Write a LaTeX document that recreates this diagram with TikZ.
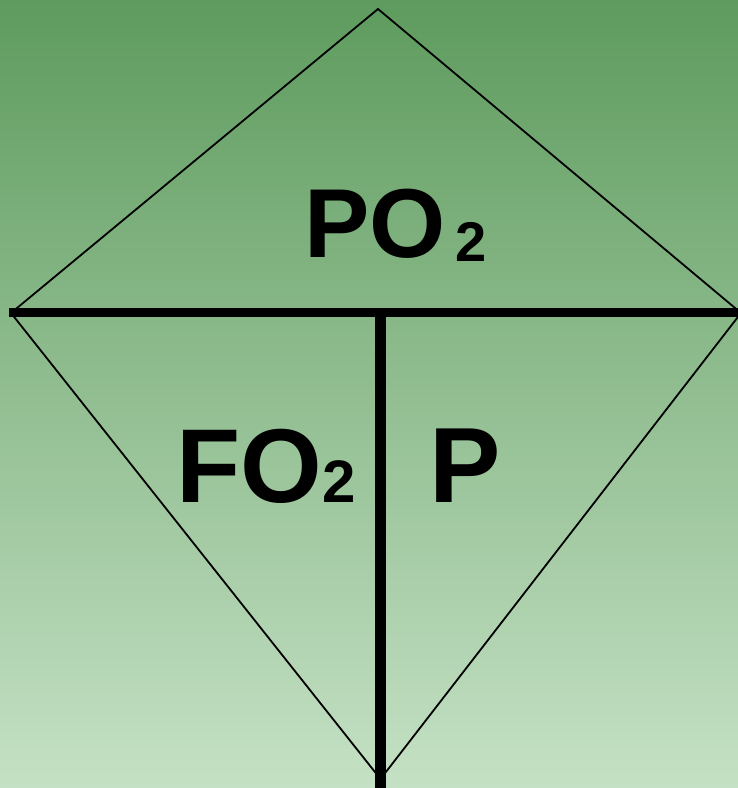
\documentclass[tikz,border=0pt]{standalone}
\usepackage{fontspec}
\setmainfont{Liberation Sans}
\begin{document}
\begin{tikzpicture}[x=1pt,y=1pt,
  thinline/.style={line width=1.8pt,line join=miter},
  thickline/.style={line width=9.5pt},
  lbl/.style={inner sep=0pt,outer sep=0pt,anchor=base west,font=\bfseries}]
\definecolor{topg}{RGB}{94,155,94}
\definecolor{botg}{RGB}{197,225,197}
\shade[top color=topg,bottom color=botg] (0,0) rectangle (738,788);
\useasboundingbox (0,0) rectangle (738,788);
\coordinate (T) at (378,779);
\coordinate (L) at (11,475);
\coordinate (R) at (741,475);
\coordinate (B) at (380.5,9);
\coordinate (HL) at (9,475.5);
\coordinate (HR) at (745,475.5);
\coordinate (VT) at (380.5,475.5);
\coordinate (VB) at (380.5,-5);
\draw[thinline] (L) -- (T) -- (R);
\draw[thinline] (L) -- (B) -- (R);
\draw[thickline] (HL) -- (HR);
\draw[line width=11pt] (VT) -- (VB);
\node[lbl] (po2) at (304,530) {\fontsize{98}{108}\selectfont PO\hspace{10pt}\raisebox{-4pt}{\fontsize{56}{60}\selectfont 2}};
\node[lbl] (fo2) at (176,285) {\fontsize{105}{115}\selectfont FO\hspace{1pt}{\fontsize{60}{66}\selectfont 2}};
\node[lbl] (p) at (429,285) {\fontsize{107}{120}\selectfont P};
\end{tikzpicture}
\end{document}
